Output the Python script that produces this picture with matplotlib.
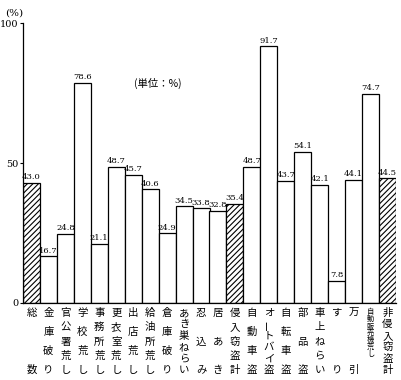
import matplotlib.pyplot as plt
import matplotlib.transforms as mtransforms
import numpy as np

plt.rcParams['font.family'] = ['Noto Sans CJK JP', 'DejaVu Sans']
plt.rcParams['hatch.linewidth'] = 0.8

# 罪種別 検挙率 (%)
labels = ['総数', '金庫破り', '官公署荒し', '学校荒し', '事務所荒し', '更衣室荒し',
          '出店荒し', '給油所荒し', '倉庫破り', 'あき巣ねらい', '忍込み', '居あき',
          '侵入窃盗計', '自動車盗', 'オートバイ盗', '自転車盗', '部品盗', '車上ねらい',
          'すり', '万引', '自動販売機荒し', '非侵入窃盗計']
values = [43.0, 16.7, 24.8, 78.6, 21.1, 48.7, 45.7, 40.6, 24.9, 34.5, 33.8, 32.8,
          35.4, 48.7, 91.7, 43.7, 54.1, 42.1, 7.8, 44.1, 74.7, 44.5]
totals = ['総数', '侵入窃盗計', '非侵入窃盗計']

W, H = 401, 380
fig = plt.figure(figsize=(W / 100, H / 100), dpi=100)
ax = fig.add_axes([23 / W, (H - 303) / H, (396 - 23) / W, (303 - 23) / H])

x = np.arange(len(labels))
for xi, lab, v in zip(x, labels, values):
    hatched = lab in totals
    ax.bar(xi, v, width=1.0, facecolor='white', edgecolor='black', linewidth=0.9,
           hatch='//////' if hatched else None)
    ax.text(xi, v + 0.6, f'{v:.1f}', ha='center', va='bottom', fontsize=6,
            family='DejaVu Serif')

ax.set_xlim(-0.5, len(labels) - 0.5)
ax.set_ylim(0, 100)
ax.set_yticks([0, 50, 100])
ax.set_yticklabels(['0', '50', '100'], family='DejaVu Serif', fontsize=7)
ax.tick_params(axis='y', length=2.5, width=0.8, pad=1)
ax.set_xticks([])
for s in ['top', 'right']:
    ax.spines[s].set_visible(False)
for s in ['left', 'bottom']:
    ax.spines[s].set_linewidth(0.9)

fig.text(14 / W, 1 - 13 / H, '(%)', fontsize=7.5, ha='center', va='center',
         family='DejaVu Serif')
fig.text(158 / W, 1 - 83 / H, '(単位：%)', fontsize=7.5, ha='center', va='center')

# vertical category labels, characters spread over the label area
trans = mtransforms.blended_transform_factory(ax.transData, fig.transFigure)
for xi, lab in zip(x, labels):
    n = len(lab)
    top, bottom, fs = 313, 370, 7.5
    if lab == '自動販売機荒し':
        top, bottom, fs = 312, 354, 5.2
    ys = np.linspace(top, bottom, n) if n > 1 else [top]
    for ch, py in zip(lab, ys):
        rot = 90 if ch == 'ー' else 0
        ax.text(xi, 1 - py / H, ch, transform=trans, ha='center', va='center',
                fontsize=fs, rotation=rot)

fig.savefig('out.png', dpi=100)
